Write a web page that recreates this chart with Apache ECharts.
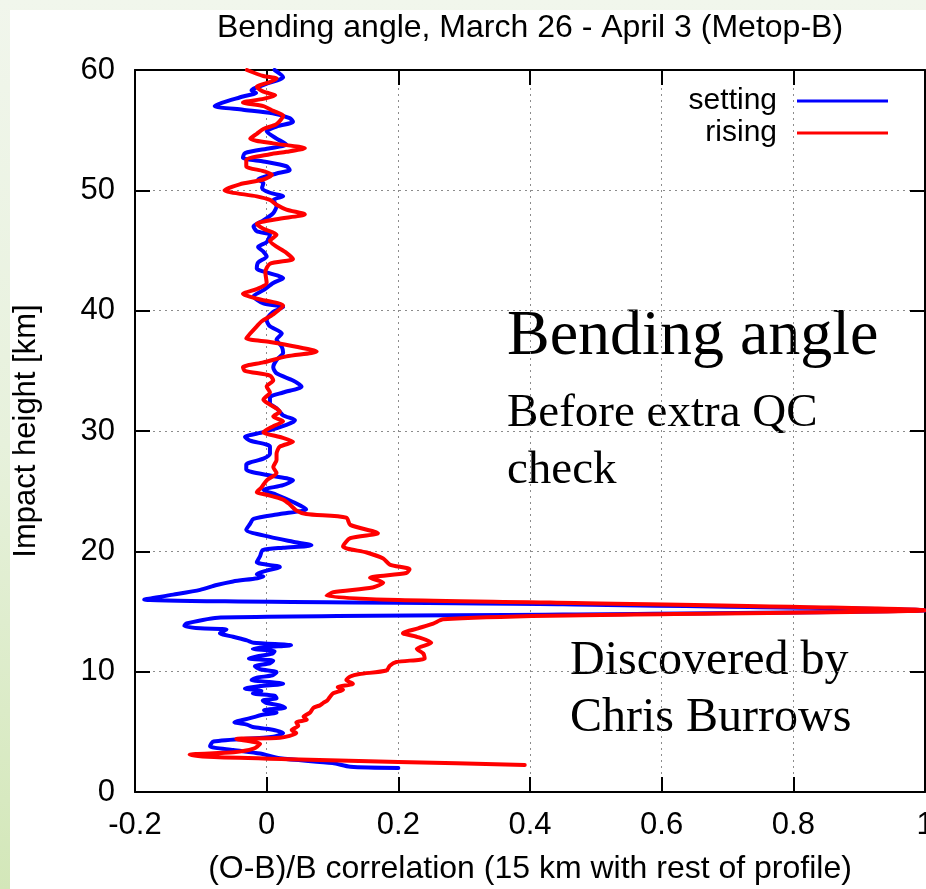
<!DOCTYPE html>
<html>
<head>
<meta charset="utf-8">
<script src="https://cdn.jsdelivr.net/npm/echarts@6/dist/echarts.min.js"></script>
<style>
  html, body { margin: 0; padding: 0; width: 926px; height: 889px; overflow: hidden;
    background: linear-gradient(to bottom, #f1f6ec 0%, #e7f1dc 50%, #d3e7b9 100%); }
  #paper { position: absolute; left: 10px; top: 10px; right: 0; bottom: 0; background: #fff; }
  #chart { position: absolute; left: 0; top: 0; width: 926px; height: 889px; }
</style>
</head>
<body>
<div id="paper"></div>
<div id="chart"></div>
<script>
// Impact heights [km] and (O-B)/B correlation for setting occultations
const settingHeight = [60.0, 59.4, 58.9, 58.3, 58.1, 57.8, 57.0, 56.7, 56.4, 56.0, 55.7, 55.3, 54.9, 54.3, 53.8, 53.5,
  53.1, 52.7, 52.4, 52.0, 51.7, 51.4, 51.1, 50.9, 50.6, 50.2, 49.8, 49.5, 49.2, 48.7, 48.1, 47.5, 47.0, 46.6, 46.3,
  45.7, 45.3, 44.9, 44.5, 44.0, 43.5, 43.1, 42.7, 42.3, 41.7, 41.2, 40.6, 40.3, 39.9, 39.2, 38.7, 38.1, 37.6, 37.0,
  36.5, 35.9, 35.3, 34.8, 34.2, 33.7, 33.2, 32.8, 32.3, 31.9, 31.3, 30.9, 30.5, 29.9, 29.5, 29.2, 28.7, 28.1, 27.7,
  27.2, 26.8, 26.3, 25.9, 25.5, 25.1, 24.7, 24.1, 23.5, 23.1, 22.7, 22.3, 21.8, 21.2, 20.8, 20.5, 20.3, 20.1, 19.6,
  19.1, 18.7, 18.4, 18.1, 17.9, 17.5, 17.2, 16.8, 16.4, 16.0, 15.6, 15.1, 14.75, 14.5, 14.0, 13.8, 13.6, 13.5, 13.2,
  12.9, 12.6, 12.4, 12.2, 12.05, 11.9, 11.7, 11.5, 11.3, 11.1, 10.9, 10.7, 10.45, 10.2, 9.95, 9.7, 9.5, 9.3, 9.15, 9.0,
  8.8, 8.6, 8.4, 8.2, 8.0, 7.8, 7.6, 7.4, 7.2, 7.0, 6.8, 6.6, 6.4, 6.2, 6.0, 5.8, 5.6, 5.4, 5.25,
  5.1, 4.9, 4.6, 4.2, 3.8, 3.5, 3.2, 2.8, 2.4, 2.1, 2.0];
const settingCorr = [0.012, 0.025, 0.002, -0.023, -0.016, -0.036, -0.079, -0.036, 0.009, 0.035, 0.04, 0.015, 0.0, 0.015, 0.03, 0.005,
  -0.033, -0.036, -0.005, 0.03, 0.035, 0.015, -0.005, -0.013, -0.005, -0.007, 0.005, 0.025, 0.01, 0.015, 0.01, -0.005, -0.02, -0.015, 0.005,
  0.0, -0.013, -0.005, 0.0, -0.013, -0.015, 0.005, 0.025, 0.01, -0.005, -0.02, -0.005, 0.025, 0.01, 0.0, 0.005, 0.023, 0.015, 0.023,
  0.025, 0.015, 0.01, 0.015, 0.04, 0.053, 0.025, 0.005, 0.005, 0.015, 0.025, 0.043, 0.03, -0.005, -0.033, -0.025, 0.005, 0.005, -0.005,
  -0.031, -0.031, 0.005, 0.04, 0.025, -0.005, 0.015, 0.04, 0.06, 0.02, -0.02, -0.025, -0.031, 0.005, 0.04, 0.068, 0.025, -0.006, -0.01,
  -0.015, 0.02, 0.0, -0.015, -0.005, -0.051, -0.076, -0.101, -0.142, -0.186, 0.45, 1.0, 0.45, -0.07, -0.122, -0.125, -0.101, -0.061, -0.071,
  -0.051, -0.03, -0.02, 0.037, 0.0, -0.021, 0.012, 0.009, -0.012, -0.027, 0.01, 0.005, -0.018, -0.01, 0.015, 0.009, -0.015, -0.023, 0.004, 0.025,
  -0.01, -0.033, -0.008, -0.021, 0.012, 0.015, -0.006, 0.0, 0.02, 0.028, -0.004, 0.015, -0.008, -0.021, -0.035, -0.049, -0.03, -0.021, 0.0,
  0.015, 0.025, 0.01, -0.081, -0.086, -0.051, -0.01, 0.02, 0.1, 0.127, 0.2];

// Impact heights [km] and (O-B)/B correlation for rising occultations
const risingHeight = [60.0, 59.5, 59.3, 59.0, 58.6, 58.2, 57.9, 57.6, 57.3, 57.0, 56.6, 56.2, 55.5, 55.1, 54.7, 54.3, 53.9,
  53.5, 53.2, 53.0, 52.5, 52.0, 51.6, 51.3, 50.9, 50.5, 50.0, 49.5, 49.2, 48.8, 48.4, 48.0, 47.6, 47.2, 46.8, 46.3,
  45.8, 44.8, 44.3, 43.9, 43.2, 42.3, 41.8, 41.4, 41.0, 40.4, 39.7, 39.1, 38.7, 38.1, 37.7, 37.4, 37.0, 36.6, 36.2,
  35.7, 35.3, 35.0, 34.6, 34.2, 33.7, 33.2, 32.6, 32.2, 31.6, 31.2, 30.8, 30.4, 29.9, 29.5, 29.1, 28.7, 28.1, 27.6,
  27.0, 26.5, 25.9, 25.3, 24.9, 24.7, 24.3, 23.9, 23.4, 23.1, 22.8, 22.2, 21.5, 21.1, 20.4, 19.9, 19.4, 18.9, 18.5,
  18.2, 17.8, 17.4, 17.0, 16.6, 16.3, 15.95, 15.75, 15.1, 14.65, 14.35, 14.0, 13.6, 13.2, 12.9, 12.4, 11.9, 11.5,
  11.1, 10.8, 10.5, 10.1, 9.8, 9.6, 9.3, 9.0, 8.7, 8.5, 8.2, 7.9, 7.6, 7.4, 7.2, 7.0, 6.6, 6.25, 6.0, 5.8, 5.5, 5.15,
  4.9, 4.5, 4.4, 4.0, 3.6, 3.3, 3.1, 2.9, 2.7, 2.5, 2.24];
const risingCorr = [-0.03, -0.005, 0.015, 0.005, -0.015, -0.005, 0.013, -0.005, -0.036, -0.005, 0.01, 0.025, 0.015, -0.005, -0.015, -0.025, 0.01,
  0.058, 0.03, 0.005, -0.031, -0.031, -0.005, 0.008, -0.005, -0.041, -0.064, -0.015, 0.005, 0.015, 0.03, 0.058, 0.015, -0.015, -0.005, 0.015,
  0.005, 0.03, 0.04, 0.005, -0.002, 0.0, -0.015, -0.036, -0.015, 0.025, 0.01, -0.008, -0.015, -0.025, -0.031, 0.005, 0.045, 0.076, 0.03,
  -0.005, -0.036, -0.033, 0.005, 0.01, 0.0, 0.005, -0.005, 0.005, 0.02, 0.01, 0.025, 0.01, -0.005, 0.02, 0.04, 0.02, 0.015, 0.015,
  0.01, 0.015, 0.0, -0.008, -0.015, 0.0, 0.025, 0.035, 0.045, 0.06, 0.121, 0.127, 0.169, 0.127, 0.116, 0.152, 0.177, 0.187, 0.217,
  0.212, 0.157, 0.177, 0.161, 0.101, 0.091, 0.2, 0.43, 1.0, 0.43, 0.268, 0.253, 0.23, 0.207, 0.228, 0.25, 0.228, 0.238,
  0.24, 0.197, 0.187, 0.182, 0.141, 0.127, 0.121, 0.131, 0.108, 0.116, 0.101, 0.096, 0.092, 0.086, 0.081, 0.071, 0.066, 0.056, 0.061, 0.045, 0.048, 0.038,
  0.045, 0.02, -0.046, -0.01, -0.02, -0.05, -0.117, -0.08,
  0.05, 0.2, 0.392];

const seriesNames = ['setting', 'rising'];
const seriesColors = ['#0000ff', '#ff0000'];

const SANS = '"Liberation Sans", Arial, Helvetica, sans-serif';
const SERIF = '"Liberation Serif", "Times New Roman", serif';

const pairs = (corr, height) => corr.map((c, i) => [c, height[i]]);

const gridLine = { show: true, lineStyle: { color: '#8c8c8c', width: 1, type: [2, 4] } };
const frameLine = { show: true, onZero: false, lineStyle: { color: '#000', width: 2 } };
const innerTick = { show: true, inside: true, length: 15, lineStyle: { color: '#000', width: 2 } };

const chart = echarts.init(document.getElementById('chart'), null, { renderer: 'canvas' });

const legendBase = {
  orient: 'horizontal', align: 'right', right: 38, padding: 0,
  icon: 'rect', itemWidth: 91, itemHeight: 3,
  textStyle: { fontSize: 30, fontFamily: SANS, color: '#000', lineHeight: 30, padding: [0, 15, 0, 0] }
};

chart.setOption({
  animation: false,
  backgroundColor: 'transparent',
  grid: { left: 135, right: 1, top: 70, bottom: 97, containLabel: false, outerBoundsMode: 'none' },
  legend: [
    Object.assign({}, legendBase, { data: [seriesNames[0]], top: 86 }),
    Object.assign({}, legendBase, { data: [seriesNames[1]], top: 118 })
  ],
  xAxis: [
    {
      type: 'value', min: -0.2, max: 1, interval: 0.2, position: 'bottom',
      name: '(O-B)/B correlation (15 km with rest of profile)',
      nameLocation: 'middle', nameGap: 61, nameMoveOverlap: false,
      nameTextStyle: { fontSize: 32, fontFamily: SANS, color: '#000' },
      axisLine: frameLine, axisTick: innerTick,
      axisLabel: { fontSize: 31, fontFamily: SANS, color: '#000', margin: 18, showMaxLabel: true, hideOverlap: false },
      splitLine: gridLine
    },
    {
      type: 'value', min: -0.2, max: 1, interval: 0.2, position: 'top',
      axisLine: frameLine, axisTick: innerTick, axisLabel: { show: false }, splitLine: { show: false }
    }
  ],
  yAxis: [
    {
      type: 'value', min: 0, max: 60, interval: 10, position: 'left',
      name: 'Impact height [km]', nameLocation: 'middle', nameGap: 93, nameRotate: 90, nameMoveOverlap: false,
      nameTextStyle: { fontSize: 31, fontFamily: SANS, color: '#000' },
      axisLine: frameLine, axisTick: innerTick,
      axisLabel: { fontSize: 31, fontFamily: SANS, color: '#000', margin: 20 },
      splitLine: gridLine
    },
    {
      type: 'value', min: 0, max: 60, interval: 10, position: 'right',
      axisLine: frameLine, axisTick: innerTick, axisLabel: { show: false }, splitLine: { show: false }
    }
  ],
  series: seriesNames.map((name, k) => ({
    name: name,
    type: 'line',
    xAxisIndex: 0, yAxisIndex: 0,
    data: k === 0 ? pairs(settingCorr, settingHeight) : pairs(risingCorr, risingHeight),
    showSymbol: false,
    symbol: 'none',
    smooth: 0.25,
    clip: true,
    color: seriesColors[k],
    lineStyle: { color: seriesColors[k], width: 4, cap: 'round', join: 'round' },
    z: 2 + k
  })),
  graphic: [
    { type: 'text', x: 530, y: 28, style: { text: 'Bending angle, March 26 - April 3 (Metop-B)', fill: '#000',
      font: '32px ' + SANS, textAlign: 'center', textVerticalAlign: 'middle' } },
    { type: 'text', x: 507, y: 337, style: { text: 'Bending angle', fill: '#000',
      font: '64px ' + SERIF, textAlign: 'left', textVerticalAlign: 'middle' } },
    { type: 'text', x: 507, y: 414, style: { text: 'Before extra QC', fill: '#000',
      font: '47px ' + SERIF, textAlign: 'left', textVerticalAlign: 'middle' } },
    { type: 'text', x: 507, y: 471, style: { text: 'check', fill: '#000',
      font: '47px ' + SERIF, textAlign: 'left', textVerticalAlign: 'middle' } },
    { type: 'text', x: 570, y: 661, style: { text: 'Discovered by', fill: '#000',
      font: '48px ' + SERIF, textAlign: 'left', textVerticalAlign: 'middle' } },
    { type: 'text', x: 570, y: 718, style: { text: 'Chris Burrows', fill: '#000',
      font: '48px ' + SERIF, textAlign: 'left', textVerticalAlign: 'middle' } }
  ]
});
</script>
</body>
</html>
